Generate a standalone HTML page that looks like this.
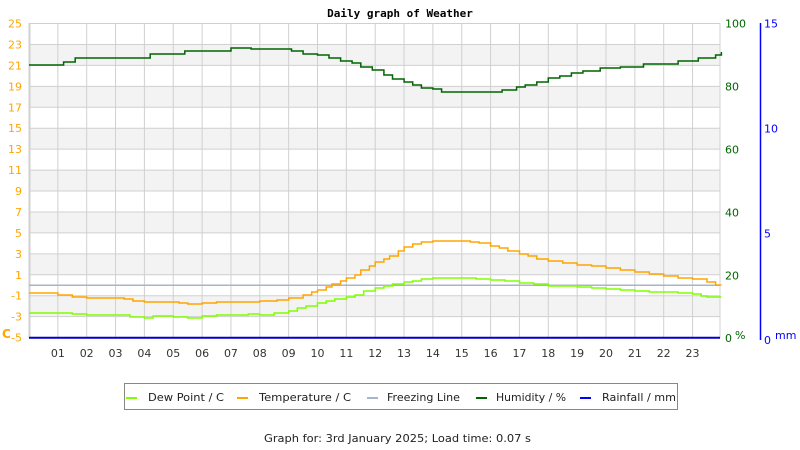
<!DOCTYPE html>
<html><head><meta charset="utf-8"><style>
html,body{margin:0;padding:0;background:#fff;}
svg{display:block;font-family:"DejaVu Sans","Liberation Sans",sans-serif;}
</style></head><body>
<svg id="s" width="800" height="450" viewBox="0 0 800 450" xmlns="http://www.w3.org/2000/svg">
<rect width="800" height="450" fill="#fff"/>
<text x="400" y="17" text-anchor="middle" font-family="DejaVu Sans Mono,Liberation Mono,monospace" font-size="11" font-weight="bold" fill="#000">Daily graph of Weather</text>
<g id="bands"></g>
<g id="grid" stroke="#d0d0d0" stroke-width="1"></g>
<line x1="29.5" y1="23" x2="29.5" y2="338" stroke="#d0d0d0" stroke-width="2"/>
<line x1="720" y1="23" x2="720" y2="338" stroke="#d0d0d0" stroke-width="1"/>
<line x1="29" y1="285.2" x2="720" y2="285.2" stroke="#a8b4c8" stroke-width="1.5"/>
<polyline id="hum" fill="none" stroke="#006400" stroke-width="1.5"/>
<polyline id="tmp" fill="none" stroke="#ffa500" stroke-width="1.5"/>
<polyline id="dew" fill="none" stroke="#80ff00" stroke-width="1.5"/>
<line x1="29" y1="337.7" x2="720" y2="337.7" stroke="#0000cc" stroke-width="2"/>
<line x1="760.5" y1="23" x2="760.5" y2="340" stroke="#0000ff" stroke-width="1.5"/>
<g id="labels" font-size="11"></g>
<text x="2" y="338" font-size="12" font-weight="bold" fill="#ffa500">C</text>
<text x="735" y="339" font-size="11" fill="#006400">%</text>
<text x="775" y="339" font-size="11" fill="#0000ff">mm</text>
<rect x="124.5" y="383.5" width="553" height="26" fill="#fff" stroke="#888" stroke-width="1"/>
<g font-size="11" fill="#222">
<line x1="126" y1="398" x2="137" y2="398" stroke="#80ff00" stroke-width="2"/><text x="148" y="401" textLength="76" lengthAdjust="spacingAndGlyphs">Dew Point / C</text>
<line x1="237" y1="398" x2="248" y2="398" stroke="#ffa500" stroke-width="2"/><text x="259" y="401" textLength="92" lengthAdjust="spacingAndGlyphs">Temperature / C</text>
<line x1="367" y1="398" x2="378" y2="398" stroke="#a8b4c8" stroke-width="2"/><text x="387" y="401" textLength="73" lengthAdjust="spacingAndGlyphs">Freezing Line</text>
<line x1="476" y1="398" x2="487" y2="398" stroke="#006400" stroke-width="2"/><text x="496" y="401" textLength="70" lengthAdjust="spacingAndGlyphs">Humidity / %</text>
<line x1="580" y1="398" x2="591" y2="398" stroke="#0000ff" stroke-width="2"/><text x="602" y="401" textLength="74" lengthAdjust="spacingAndGlyphs">Rainfall / mm</text>
<text x="264" y="442" textLength="267" lengthAdjust="spacingAndGlyphs">Graph for: 3rd January 2025; Load time: 0.07 s</text>
</g>
</svg>
<script>
var NS="http://www.w3.org/2000/svg";
function el(p,t,a,txt){var e=document.createElementNS(NS,t);for(var k in a)e.setAttribute(k,a[k]);if(txt!==undefined)e.textContent=txt;p.appendChild(e);return e;}
function Y(v){return 23.5+(25-v)*10.47;}
function X(h){return 29+h*28.85;}
var b=document.getElementById('bands'),g=document.getElementById('grid'),L=document.getElementById('labels');
[23,19,15,11,7,3,-1].forEach(function(v){el(b,'rect',{x:29,y:Y(v),width:691,height:Y(v-2)-Y(v),fill:'#f3f3f3'});});
for(var v=25;v>=-5;v-=2){el(g,'line',{x1:29,x2:720,y1:Y(v),y2:Y(v)});el(L,'text',{x:22,y:Y(v)+4,'text-anchor':'end',fill:'#ffa500'},String(v));}
for(var h=1;h<24;h++){el(g,'line',{x1:X(h),x2:X(h),y1:23,y2:338});el(L,'text',{x:X(h),y:357,'text-anchor':'middle',fill:'#333'},(h<10?'0':'')+h);}
[[100,23.5],[80,86.5],[60,149.5],[40,212.5],[20,275.5],[0,338]].forEach(function(a){el(L,'text',{x:725,y:a[1]+4,fill:'#006400'},String(a[0]));});
[[15,23.5],[10,128.5],[5,233.5],[0,340]].forEach(function(a){el(L,'text',{x:764,y:a[1]+4,fill:'#0000ff'},String(a[0]));});
function step(id,pts){var s=[],prev=null;for(var i=0;i<pts.length;i++){var x=X(pts[i][0]),y=pts[i][1];if(prev!==null)s.push(x.toFixed(1)+','+prev);s.push(x.toFixed(1)+','+y);prev=y;}document.getElementById(id).setAttribute('points',s.join(' '));}
step('hum',[[0,65],[1.2,62],[1.6,58],[4.0,58],[4.2,54],[5.4,51],[7,48],[7.7,49],[9.1,51],[9.5,54],[10,55],[10.4,58],[10.8,61],[11.2,63],[11.5,67],[11.9,70],[12.3,75],[12.6,79],[13,82],[13.3,85],[13.6,88],[14,89],[14.3,92],[15,92],[16,92],[16.4,90],[16.9,87],[17.2,85],[17.6,82],[18,78],[18.4,76],[18.8,73],[19.2,71],[19.8,68],[20.5,67],[21.3,64],[22.5,61],[23.2,58],[23.8,55],[24,52]]);
step('tmp',[[0,293],[1,295],[1.5,297],[2,298],[3.3,299],[3.6,301],[4,302],[4.5,302],[5.2,303],[5.5,304],[6,303],[6.5,302],[7,302],[8,301],[8.6,300],[9,298],[9.5,295],[9.8,292],[10,290],[10.3,287],[10.5,284],[10.8,281],[11,278],[11.3,275],[11.5,270],[11.8,266],[12,262],[12.3,259],[12.5,256],[12.8,251],[13,247],[13.3,244],[13.6,242],[14,241],[14.5,241],[15,241],[15.3,242],[15.6,243],[16,246],[16.3,248],[16.6,251],[17,254],[17.3,256],[17.6,259],[18,261],[18.5,263],[19,265],[19.5,266],[20,268],[20.5,270],[21,272],[21.5,274],[22,276],[22.5,278],[23,279],[23.5,282],[23.8,285],[24,285]]);
step('dew',[[0,313],[1,313],[1.5,314],[2,315],[3.2,315],[3.5,317],[4,318],[4.3,316],[5,317],[5.5,318],[6,316],[6.5,315],[7,315],[7.6,314],[8,315],[8.5,313],[9,311],[9.3,308],[9.6,306],[10,303],[10.3,301],[10.6,299],[11,297],[11.3,295],[11.6,291],[12,288],[12.3,286],[12.6,284],[13,282],[13.3,281],[13.6,279],[14,278],[14.5,278],[15,278],[15.5,279],[16,280],[16.5,281],[17,283],[17.5,284],[18,286],[18.5,286],[19,287],[19.5,288],[20,289],[20.5,290],[21,291],[21.5,292],[22,292],[22.5,293],[23,294],[23.3,296],[23.5,297],[24,297]]);
</script>
</body></html>
